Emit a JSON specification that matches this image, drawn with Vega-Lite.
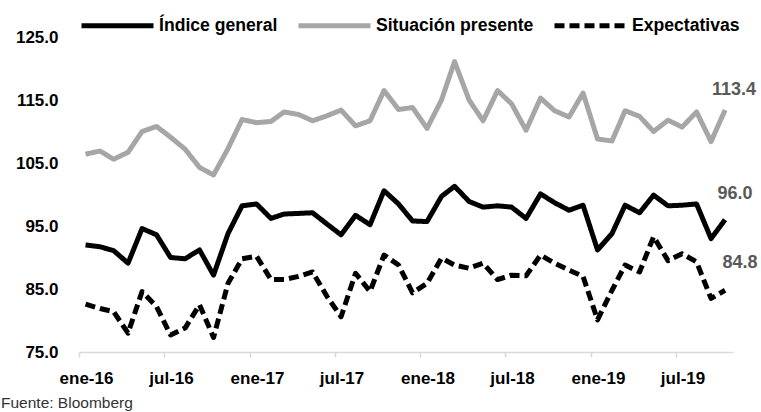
{
  "$schema": "https://vega.github.io/schema/vega-lite/v6.json",
  "autosize": {"type": "none"},
  "width": 654,
  "height": 315,
  "padding": {"left": 79, "top": 37, "right": 28, "bottom": 60},
  "background": "white",
  "title": {
    "text": "Fuente: Bloomberg",
    "orient": "bottom",
    "anchor": "start",
    "frame": "group",
    "dx": -78,
    "offset": 10,
    "font": "Liberation Sans",
    "fontSize": 15.5,
    "fontWeight": "normal",
    "color": "#333333"
  },
  "config": {
    "view": {"stroke": null},
    "axis": {"grid": false},
    "font": "Liberation Sans"
  },
  "data": {
    "values": [
      {"mes": "2016-01-15", "serie": "Índice general", "valor": 92.0},
      {"mes": "2016-02-15", "serie": "Índice general", "valor": 91.7},
      {"mes": "2016-03-15", "serie": "Índice general", "valor": 91.1},
      {"mes": "2016-04-15", "serie": "Índice general", "valor": 89.1},
      {"mes": "2016-05-15", "serie": "Índice general", "valor": 94.6},
      {"mes": "2016-06-15", "serie": "Índice general", "valor": 93.6},
      {"mes": "2016-07-15", "serie": "Índice general", "valor": 90.0},
      {"mes": "2016-08-15", "serie": "Índice general", "valor": 89.8},
      {"mes": "2016-09-15", "serie": "Índice general", "valor": 91.2},
      {"mes": "2016-10-15", "serie": "Índice general", "valor": 87.2},
      {"mes": "2016-11-15", "serie": "Índice general", "valor": 93.8},
      {"mes": "2016-12-15", "serie": "Índice general", "valor": 98.2},
      {"mes": "2017-01-15", "serie": "Índice general", "valor": 98.5},
      {"mes": "2017-02-15", "serie": "Índice general", "valor": 96.2},
      {"mes": "2017-03-15", "serie": "Índice general", "valor": 96.9},
      {"mes": "2017-04-15", "serie": "Índice general", "valor": 97.0},
      {"mes": "2017-05-15", "serie": "Índice general", "valor": 97.1},
      {"mes": "2017-06-15", "serie": "Índice general", "valor": 95.3},
      {"mes": "2017-07-15", "serie": "Índice general", "valor": 93.6},
      {"mes": "2017-08-15", "serie": "Índice general", "valor": 96.7},
      {"mes": "2017-09-15", "serie": "Índice general", "valor": 95.2},
      {"mes": "2017-10-15", "serie": "Índice general", "valor": 100.6},
      {"mes": "2017-11-15", "serie": "Índice general", "valor": 98.5},
      {"mes": "2017-12-15", "serie": "Índice general", "valor": 95.8},
      {"mes": "2018-01-15", "serie": "Índice general", "valor": 95.7},
      {"mes": "2018-02-15", "serie": "Índice general", "valor": 99.7},
      {"mes": "2018-03-15", "serie": "Índice general", "valor": 101.3},
      {"mes": "2018-04-15", "serie": "Índice general", "valor": 98.9},
      {"mes": "2018-05-15", "serie": "Índice general", "valor": 98.0},
      {"mes": "2018-06-15", "serie": "Índice general", "valor": 98.2},
      {"mes": "2018-07-15", "serie": "Índice general", "valor": 98.0},
      {"mes": "2018-08-15", "serie": "Índice general", "valor": 96.2},
      {"mes": "2018-09-15", "serie": "Índice general", "valor": 100.1},
      {"mes": "2018-10-15", "serie": "Índice general", "valor": 98.7},
      {"mes": "2018-11-15", "serie": "Índice general", "valor": 97.5},
      {"mes": "2018-12-15", "serie": "Índice general", "valor": 98.3},
      {"mes": "2019-01-15", "serie": "Índice general", "valor": 91.2},
      {"mes": "2019-02-15", "serie": "Índice general", "valor": 93.8},
      {"mes": "2019-03-15", "serie": "Índice general", "valor": 98.3},
      {"mes": "2019-04-15", "serie": "Índice general", "valor": 97.1},
      {"mes": "2019-05-15", "serie": "Índice general", "valor": 99.9},
      {"mes": "2019-06-15", "serie": "Índice general", "valor": 98.2},
      {"mes": "2019-07-15", "serie": "Índice general", "valor": 98.3},
      {"mes": "2019-08-15", "serie": "Índice general", "valor": 98.5},
      {"mes": "2019-09-15", "serie": "Índice general", "valor": 93.0},
      {"mes": "2019-10-15", "serie": "Índice general", "valor": 96.0},
      {"mes": "2016-01-15", "serie": "Situación presente", "valor": 106.4},
      {"mes": "2016-02-15", "serie": "Situación presente", "valor": 106.9},
      {"mes": "2016-03-15", "serie": "Situación presente", "valor": 105.6},
      {"mes": "2016-04-15", "serie": "Situación presente", "valor": 106.7},
      {"mes": "2016-05-15", "serie": "Situación presente", "valor": 110.0},
      {"mes": "2016-06-15", "serie": "Situación presente", "valor": 110.8},
      {"mes": "2016-07-15", "serie": "Situación presente", "valor": 109.1},
      {"mes": "2016-08-15", "serie": "Situación presente", "valor": 107.2},
      {"mes": "2016-09-15", "serie": "Situación presente", "valor": 104.3},
      {"mes": "2016-10-15", "serie": "Situación presente", "valor": 103.1},
      {"mes": "2016-11-15", "serie": "Situación presente", "valor": 107.3},
      {"mes": "2016-12-15", "serie": "Situación presente", "valor": 111.9},
      {"mes": "2017-01-15", "serie": "Situación presente", "valor": 111.4},
      {"mes": "2017-02-15", "serie": "Situación presente", "valor": 111.6},
      {"mes": "2017-03-15", "serie": "Situación presente", "valor": 113.1},
      {"mes": "2017-04-15", "serie": "Situación presente", "valor": 112.7},
      {"mes": "2017-05-15", "serie": "Situación presente", "valor": 111.7},
      {"mes": "2017-06-15", "serie": "Situación presente", "valor": 112.5},
      {"mes": "2017-07-15", "serie": "Situación presente", "valor": 113.4},
      {"mes": "2017-08-15", "serie": "Situación presente", "valor": 110.9},
      {"mes": "2017-09-15", "serie": "Situación presente", "valor": 111.7},
      {"mes": "2017-10-15", "serie": "Situación presente", "valor": 116.5},
      {"mes": "2017-11-15", "serie": "Situación presente", "valor": 113.5},
      {"mes": "2017-12-15", "serie": "Situación presente", "valor": 113.8},
      {"mes": "2018-01-15", "serie": "Situación presente", "valor": 110.5},
      {"mes": "2018-02-15", "serie": "Situación presente", "valor": 115.0},
      {"mes": "2018-03-15", "serie": "Situación presente", "valor": 121.1},
      {"mes": "2018-04-15", "serie": "Situación presente", "valor": 115.0},
      {"mes": "2018-05-15", "serie": "Situación presente", "valor": 111.7},
      {"mes": "2018-06-15", "serie": "Situación presente", "valor": 116.5},
      {"mes": "2018-07-15", "serie": "Situación presente", "valor": 114.4},
      {"mes": "2018-08-15", "serie": "Situación presente", "valor": 110.2},
      {"mes": "2018-09-15", "serie": "Situación presente", "valor": 115.3},
      {"mes": "2018-10-15", "serie": "Situación presente", "valor": 113.3},
      {"mes": "2018-11-15", "serie": "Situación presente", "valor": 112.3},
      {"mes": "2018-12-15", "serie": "Situación presente", "valor": 116.1},
      {"mes": "2019-01-15", "serie": "Situación presente", "valor": 108.8},
      {"mes": "2019-02-15", "serie": "Situación presente", "valor": 108.5},
      {"mes": "2019-03-15", "serie": "Situación presente", "valor": 113.3},
      {"mes": "2019-04-15", "serie": "Situación presente", "valor": 112.4},
      {"mes": "2019-05-15", "serie": "Situación presente", "valor": 110.0},
      {"mes": "2019-06-15", "serie": "Situación presente", "valor": 111.8},
      {"mes": "2019-07-15", "serie": "Situación presente", "valor": 110.7},
      {"mes": "2019-08-15", "serie": "Situación presente", "valor": 113.1},
      {"mes": "2019-09-15", "serie": "Situación presente", "valor": 108.4},
      {"mes": "2019-10-15", "serie": "Situación presente", "valor": 113.4},
      {"mes": "2016-01-15", "serie": "Expectativas", "valor": 82.6},
      {"mes": "2016-02-15", "serie": "Expectativas", "valor": 81.9},
      {"mes": "2016-03-15", "serie": "Expectativas", "valor": 81.4},
      {"mes": "2016-04-15", "serie": "Expectativas", "valor": 78.0},
      {"mes": "2016-05-15", "serie": "Expectativas", "valor": 84.6},
      {"mes": "2016-06-15", "serie": "Expectativas", "valor": 82.2},
      {"mes": "2016-07-15", "serie": "Expectativas", "valor": 77.7},
      {"mes": "2016-08-15", "serie": "Expectativas", "valor": 78.8},
      {"mes": "2016-09-15", "serie": "Expectativas", "valor": 82.5},
      {"mes": "2016-10-15", "serie": "Expectativas", "valor": 77.3},
      {"mes": "2016-11-15", "serie": "Expectativas", "valor": 85.9},
      {"mes": "2016-12-15", "serie": "Expectativas", "valor": 89.8},
      {"mes": "2017-01-15", "serie": "Expectativas", "valor": 90.2},
      {"mes": "2017-02-15", "serie": "Expectativas", "valor": 86.5},
      {"mes": "2017-03-15", "serie": "Expectativas", "valor": 86.5},
      {"mes": "2017-04-15", "serie": "Expectativas", "valor": 87.0},
      {"mes": "2017-05-15", "serie": "Expectativas", "valor": 87.7},
      {"mes": "2017-06-15", "serie": "Expectativas", "valor": 83.8},
      {"mes": "2017-07-15", "serie": "Expectativas", "valor": 80.6},
      {"mes": "2017-08-15", "serie": "Expectativas", "valor": 87.5},
      {"mes": "2017-09-15", "serie": "Expectativas", "valor": 84.6},
      {"mes": "2017-10-15", "serie": "Expectativas", "valor": 90.4},
      {"mes": "2017-11-15", "serie": "Expectativas", "valor": 88.8},
      {"mes": "2017-12-15", "serie": "Expectativas", "valor": 84.4},
      {"mes": "2018-01-15", "serie": "Expectativas", "valor": 85.9},
      {"mes": "2018-02-15", "serie": "Expectativas", "valor": 89.9},
      {"mes": "2018-03-15", "serie": "Expectativas", "valor": 88.8},
      {"mes": "2018-04-15", "serie": "Expectativas", "valor": 88.3},
      {"mes": "2018-05-15", "serie": "Expectativas", "valor": 89.1},
      {"mes": "2018-06-15", "serie": "Expectativas", "valor": 86.5},
      {"mes": "2018-07-15", "serie": "Expectativas", "valor": 87.2},
      {"mes": "2018-08-15", "serie": "Expectativas", "valor": 87.1},
      {"mes": "2018-09-15", "serie": "Expectativas", "valor": 90.4},
      {"mes": "2018-10-15", "serie": "Expectativas", "valor": 89.1},
      {"mes": "2018-11-15", "serie": "Expectativas", "valor": 88.0},
      {"mes": "2018-12-15", "serie": "Expectativas", "valor": 87.0},
      {"mes": "2019-01-15", "serie": "Expectativas", "valor": 80.1},
      {"mes": "2019-02-15", "serie": "Expectativas", "valor": 84.8},
      {"mes": "2019-03-15", "serie": "Expectativas", "valor": 88.8},
      {"mes": "2019-04-15", "serie": "Expectativas", "valor": 87.7},
      {"mes": "2019-05-15", "serie": "Expectativas", "valor": 93.3},
      {"mes": "2019-06-15", "serie": "Expectativas", "valor": 89.5},
      {"mes": "2019-07-15", "serie": "Expectativas", "valor": 90.6},
      {"mes": "2019-08-15", "serie": "Expectativas", "valor": 89.3},
      {"mes": "2019-09-15", "serie": "Expectativas", "valor": 83.5},
      {"mes": "2019-10-15", "serie": "Expectativas", "valor": 84.8}
    ]
  },
  "encoding": {
    "x": {
      "field": "mes",
      "type": "temporal",
      "scale": {
        "type": "utc",
        "domain": [
          {"year": 2016, "month": 1, "date": 1, "utc": true},
          {"year": 2019, "month": 11, "date": 1, "utc": true}
        ],
        "nice": false
      },
      "axis": {
        "title": null,
        "values": [
          {"year": 2016, "month": 1, "date": 1, "utc": true},
          {"year": 2016, "month": 7, "date": 1, "utc": true},
          {"year": 2017, "month": 1, "date": 1, "utc": true},
          {"year": 2017, "month": 7, "date": 1, "utc": true},
          {"year": 2018, "month": 1, "date": 1, "utc": true},
          {"year": 2018, "month": 7, "date": 1, "utc": true},
          {"year": 2019, "month": 1, "date": 1, "utc": true},
          {"year": 2019, "month": 7, "date": 1, "utc": true}
        ],
        "labelExpr": "(utcmonth(datum.value) == 0 ? 'ene' : 'jul') + '-' + utcFormat(datum.value, '%y')",
        "labelOverlap": false,
        "labelFlush": false,
        "labelOffset": 7,
        "labelFontSize": 17,
        "labelFontWeight": "bold",
        "labelColor": "#000000",
        "labelPadding": 13,
        "domainColor": "#d9d9d9",
        "domainWidth": 1.5,
        "tickColor": "#d9d9d9",
        "tickWidth": 1.5,
        "tickSize": 5
      }
    },
    "y": {
      "field": "valor",
      "type": "quantitative",
      "scale": {"domain": [75, 125], "nice": false, "zero": false},
      "axis": {
        "title": null,
        "values": [75, 85, 95, 105, 115, 125],
        "format": ".1f",
        "domain": false,
        "ticks": false,
        "labelPadding": 21,
        "labelFontSize": 17,
        "labelFontWeight": "bold",
        "labelColor": "#000000"
      }
    }
  },
  "layer": [
    {
      "mark": {"type": "line", "strokeJoin": "round"},
      "encoding": {
        "color": {
          "field": "serie",
          "type": "nominal",
          "scale": {
            "domain": ["Índice general", "Situación presente", "Expectativas"],
            "range": ["#000000", "#a6a6a6", "#000000"]
          },
          "legend": {
            "title": null,
            "orient": "none",
            "direction": "horizontal",
            "legendX": 0,
            "legendY": -50,
            "symbolType": "stroke",
            "symbolSize": 5184,
            "labelFontSize": 17.6,
            "labelFontWeight": "bold",
            "labelColor": "#000000",
            "labelOffset": 3,
            "columnPadding": 10,
            "labelLimit": 400
          }
        },
        "strokeDash": {
          "field": "serie",
          "type": "nominal",
          "scale": {
            "domain": ["Índice general", "Situación presente", "Expectativas"],
            "range": [[1, 0], [1, 0], [10, 5]]
          },
          "legend": null
        },
        "strokeWidth": {
          "field": "serie",
          "type": "nominal",
          "scale": {
            "domain": ["Índice general", "Situación presente", "Expectativas"],
            "range": [5, 5, 3]
          },
          "legend": null
        }
      }
    },
    {
      "transform": [{"filter": "datum.serie == 'Situación presente' && utcyear(datum.mes) == 2019 && utcmonth(datum.mes) == 9"}],
      "mark": {"type": "text", "dx": 9, "dy": -20, "fontSize": 18, "fontWeight": "bold", "color": "#595959", "align": "center", "baseline": "middle"},
      "encoding": {"text": {"field": "valor", "type": "quantitative", "format": ".1f"}}
    },
    {
      "transform": [{"filter": "datum.serie == 'Índice general' && utcyear(datum.mes) == 2019 && utcmonth(datum.mes) == 9"}],
      "mark": {"type": "text", "dx": 10, "dy": -26, "fontSize": 18, "fontWeight": "bold", "color": "#595959", "align": "center", "baseline": "middle"},
      "encoding": {"text": {"field": "valor", "type": "quantitative", "format": ".1f"}}
    },
    {
      "transform": [{"filter": "datum.serie == 'Expectativas' && utcyear(datum.mes) == 2019 && utcmonth(datum.mes) == 9"}],
      "mark": {"type": "text", "dx": 15, "dy": -27, "fontSize": 18, "fontWeight": "bold", "color": "#595959", "align": "center", "baseline": "middle"},
      "encoding": {"text": {"field": "valor", "type": "quantitative", "format": ".1f"}}
    }
  ]
}
